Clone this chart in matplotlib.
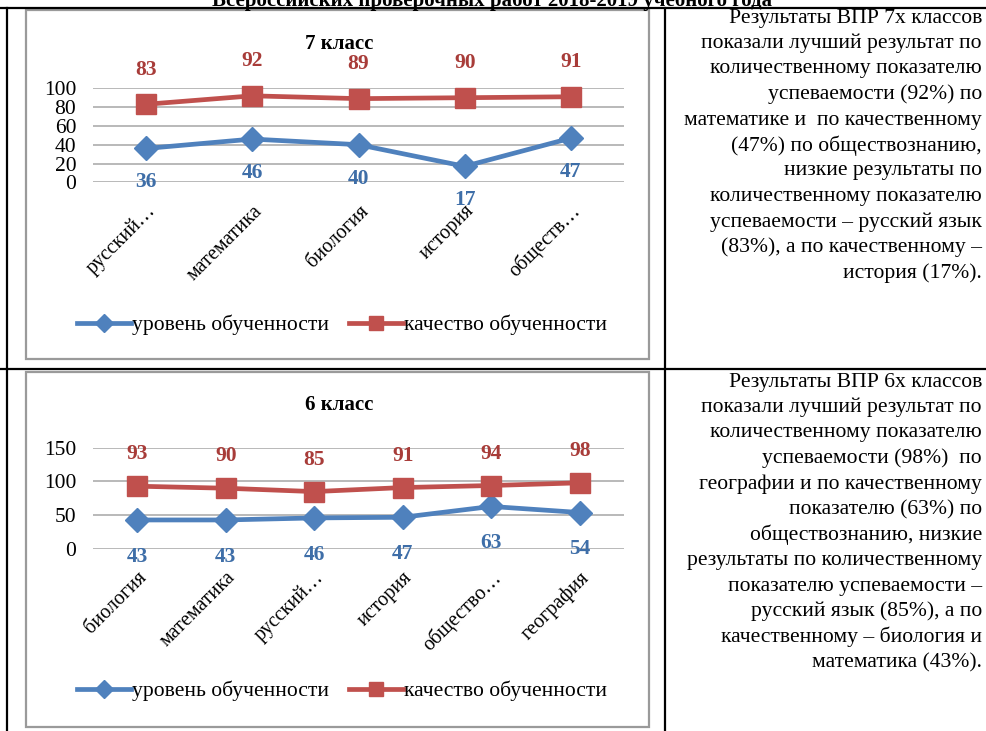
import matplotlib
matplotlib.use("Agg")
import matplotlib.pyplot as plt
from matplotlib.lines import Line2D
from matplotlib.patches import Rectangle
from matplotlib.transforms import offset_copy

plt.rcParams['font.family'] = ['Liberation Serif', 'DejaVu Serif']

# ---------------- data ----------------
header = "Всероссийских проверочных работ 2018-2019 учебного года"

title7 = "7 класс"
cats7 = ["русский…", "математика", "биология", "история", "обществ…"]
level7 = [36, 46, 40, 17, 47]
quality7 = [83, 92, 89, 90, 91]
yticks7 = [0, 20, 40, 60, 80, 100]

title6 = "6 класс"
cats6 = ["биология", "математика", "русский…", "история", "обществo…", "география"]
level6 = [43, 43, 46, 47, 63, 54]
quality6 = [93, 90, 85, 91, 94, 98]
yticks6 = [0, 50, 100, 150]

series_names = ["уровень обученности", "качество обученности"]

text7 = ["Результаты ВПР 7х классов",
         "показали лучший результат по",
         "количественному показателю",
         "успеваемости (92%) по",
         "математике и  по качественному",
         "(47%) по обществознанию,",
         "низкие результаты по",
         "количественному показателю",
         "успеваемости – русский язык",
         "(83%), а по качественному –",
         "история (17%)."]
text6 = ["Результаты ВПР 6х классов",
         "показали лучший результат по",
         "количественному показателю",
         "успеваемости (98%)  по",
         "географии и по качественному",
         "показателю (63%) по",
         "обществознанию, низкие",
         "результаты по количественному",
         "показателю успеваемости –",
         "русский язык (85%), а по",
         "качественному – биология и",
         "математика (43%)."]

# ---------------- styles ----------------
W, H = 987, 731
BLUE = "#4F81BD"
RED = "#C0504D"
BLUE_LBL = "#3E6EA8"
RED_LBL = "#A83C39"
GRID = "#A6A6A6"
SERIF = ['Liberation Serif', 'DejaVu Serif']

fig = plt.figure(figsize=(W / 100, H / 100), dpi=100)


def rect(x0, y0, x1, y1):
    return [x0 / W, 1 - y1 / H, (x1 - x0) / W, (y1 - y0) / H]


def fline(x0, y0, x1, y1, **kw):
    fig.add_artist(Line2D([x0 / W, x1 / W], [1 - y0 / H, 1 - y1 / H],
                          transform=fig.transFigure, **kw))


# cut-off header
fig.text(492 / W, 1 - 6 / H, header, ha='center', va='baseline',
         fontsize=15, fontweight='bold', family=SERIF)

# table lines
fline(0, 8, W, 8, color='black', lw=1.6)
fline(0, 369, W, 369, color='black', lw=1.6)
fline(7, 8, 7, H, color='black', lw=1.6)
fline(665.5, 8, 665.5, H, color='black', lw=1.6)

# chart boxes
for (x0, y0, x1, y1) in [(26, 10, 649, 359), (26, 372, 649, 727)]:
    fig.add_artist(Rectangle((x0 / W, 1 - y1 / H), (x1 - x0) / W, (y1 - y0) / H,
                             transform=fig.transFigure, fill=False,
                             edgecolor='#9A9A9A', lw=1.6))


def make_chart(axrect, cats, level, quality, yticks, title, title_y,
               red_off, blue_off, legend_y):
    ax = fig.add_axes(rect(*axrect))
    x = list(range(len(cats)))
    ax.set_xlim(-0.5, len(cats) - 0.5)
    ax.set_ylim(yticks[0], yticks[-1])
    for t in yticks:
        ax.axhline(t, color=GRID, lw=1.1, zorder=1)
    for s in ax.spines.values():
        s.set_visible(False)
    ax.set_yticks(yticks)
    ax.set_yticklabels([str(t) for t in yticks], fontsize=15.5, family=SERIF)
    ax.tick_params(axis='y', length=0, pad=12)
    ax.set_xticks(x)
    ax.set_xticklabels([])
    ax.tick_params(axis='x', length=0)
    l1, = ax.plot(x, level, color=BLUE, lw=3.4, marker='D', markersize=12,
                  zorder=3, clip_on=False, label=series_names[0])
    l2, = ax.plot(x, quality, color=RED, lw=3.4, marker='s', markersize=14,
                  zorder=3, clip_on=False, label=series_names[1])
    for xi, v in zip(x, quality):
        ax.annotate(str(v), (xi, v), xytext=(0, red_off), textcoords='offset points',
                    ha='center', va='center', color=RED_LBL, fontsize=15.5,
                    fontweight='bold', annotation_clip=False, family=SERIF)
    for xi, v in zip(x, level):
        ax.annotate(str(v), (xi, v), xytext=(0, -blue_off), textcoords='offset points',
                    ha='center', va='center', color=BLUE_LBL, fontsize=15.5,
                    fontweight='bold', annotation_clip=False, family=SERIF)
    tr = offset_copy(ax.get_xaxis_transform(), fig=fig, x=7, y=-26, units='dots')
    for xi, c in zip(x, cats):
        ax.text(xi, 0, c, transform=tr, rotation=45, ha='right', va='center',
                rotation_mode='anchor', fontsize=14.5, family=SERIF)
    fig.text(339 / W, 1 - title_y / H, title, ha='center', va='center',
             fontsize=15, fontweight='bold', family=SERIF)
    fig.legend(handles=[l1, l2], loc='center', bbox_to_anchor=(342 / W, 1 - legend_y / H),
               ncol=2, frameon=False, prop={'family': SERIF, 'size': 15.6},
               handlelength=2.5, handletextpad=0.05, columnspacing=0.9,
               markerscale=0.75)
    return ax


make_chart((93, 88.3, 624, 182.3), cats7, level7, quality7, yticks7, title7, 44,
           25, 24.5, 325)
make_chart((93, 447.7, 624, 549), cats6, level6, quality6, yticks6, title6, 405,
           23, 26.5, 691)

# right-hand texts
for i, line in enumerate(text7):
    fig.text(982 / W, 1 - (18 + 25.5 * i) / H, line, ha='right', va='center',
             fontsize=15.6, family=SERIF)
for i, line in enumerate(text6):
    fig.text(982 / W, 1 - (382 + 25.5 * i) / H, line, ha='right', va='center',
             fontsize=15.6, family=SERIF)

fig.savefig("out.png", dpi=100)
